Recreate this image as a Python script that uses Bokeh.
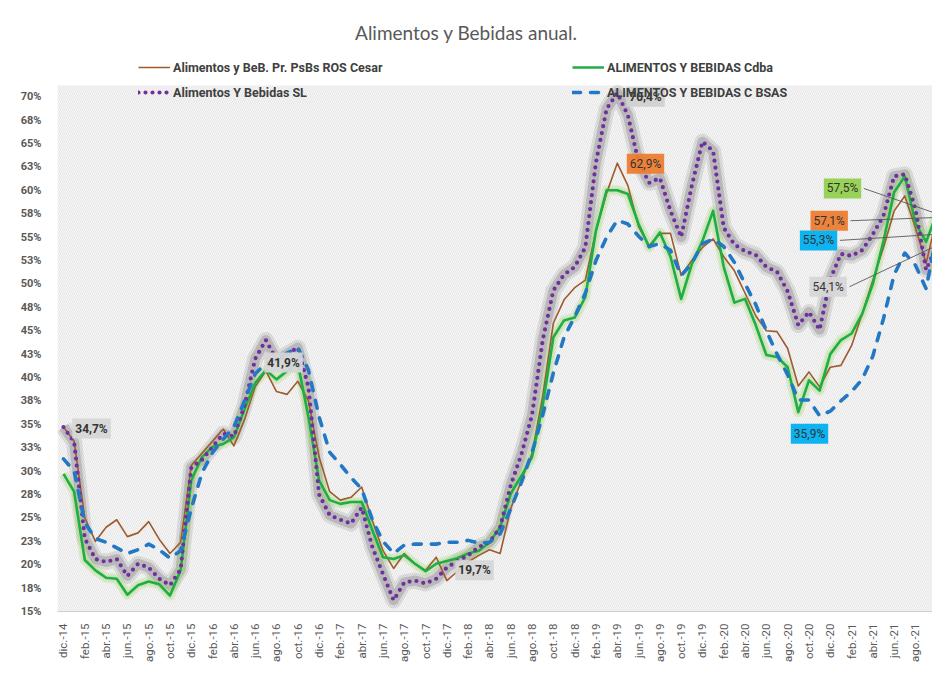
import numpy as np
from bokeh.plotting import figure
from bokeh.models import (Range1d, FixedTicker, Legend, LegendItem, Label,
                          BoxAnnotation, ColumnDataSource)
from bokeh.embed import file_html
from bokeh.resources import INLINE

# ---------------- data ----------------
MONTHS = ["ene.", "feb.", "mar.", "abr.", "may.", "jun.", "jul.", "ago.",
          "sep.", "oct.", "nov.", "dic."]
categories = (["dic.-14"] + [f"{m}-{y}" for y in range(15, 22) for m in MONTHS])[:83]

ros_cesar = [34.7, 33.2, 25.0, 22.5, 24.0, 24.8, 23.0, 23.4, 24.6, 22.7, 21.2, 22.4,
             30.6, 31.9, 33.2, 34.5, 32.7, 35.5, 39.0, 40.7, 38.5, 38.2, 39.6, 37.5,
             31.5, 27.8, 26.9, 27.2, 28.3, 24.7, 21.5, 19.6, 21.2, 20.1, 19.4, 20.8,
             18.3, 19.3, 20.3, 21.0, 21.6, 21.2, 26.0, 29.0, 31.9, 38.0, 45.8, 48.3,
             49.6, 50.4, 55.7, 59.7, 62.9, 60.5, 56.1, 54.1, 55.4, 55.4, 50.9, 52.5,
             53.9, 54.8, 52.9, 51.4, 49.0, 46.6, 45.0, 44.9, 43.1, 39.1, 40.6, 39.0,
             41.1, 41.3, 43.4, 46.8, 50.4, 53.9, 57.8, 59.4, 56.0, 52.2, 57.1]

cdba = [29.7, 27.8, 20.5, 19.4, 18.6, 18.5, 16.8, 17.8, 18.2, 17.9, 16.7, 19.4,
        29.0, 31.5, 32.6, 32.9, 33.6, 36.6, 39.4, 40.8, 39.8, 40.7, 41.5, 35.8,
        29.0, 26.9, 26.5, 26.7, 26.7, 23.7, 20.8, 20.6, 21.0, 20.1, 19.3, 20.1,
        20.4, 20.7, 21.2, 21.5, 22.4, 24.0, 27.6, 29.5, 31.5, 37.0, 44.3, 46.1,
        46.4, 48.6, 55.7, 60.0, 60.0, 59.6, 56.4, 53.9, 55.5, 52.9, 48.4, 52.1,
        54.6, 57.8, 51.8, 48.0, 48.4, 45.6, 42.4, 42.2, 41.1, 36.3, 39.7, 38.6,
        42.5, 44.0, 44.7, 46.8, 50.0, 54.6, 59.8, 61.5, 56.5, 54.5, 57.5]

sl = [34.7, 33.1, 22.8, 20.6, 20.3, 20.6, 18.8, 20.1, 19.7, 18.5, 17.8, 19.5,
      30.4, 31.2, 32.6, 34.0, 33.7, 37.0, 42.0, 44.0, 41.9, 42.5, 43.2, 39.0,
      27.5, 25.3, 24.8, 24.4, 26.1, 21.9, 19.0, 16.2, 18.1, 18.3, 18.0, 18.5,
      19.7, 20.4, 21.0, 21.9, 22.4, 24.0, 28.5, 31.8, 36.0, 44.0, 49.3, 51.0,
      51.8, 53.9, 63.0, 68.7, 70.4, 68.0, 63.0, 60.8, 61.3, 57.8, 55.0, 60.5,
      65.2, 64.2, 56.0, 54.2, 53.5, 53.1, 51.8, 51.3, 49.2, 45.6, 47.0, 45.1,
      50.5, 53.2, 53.0, 53.6, 55.3, 57.3, 61.5, 61.7, 58.0, 51.5, 54.1]

c_bsas = [31.3, 30.0, 24.5, 22.8, 22.4, 21.8, 21.2, 21.6, 22.2, 21.6, 20.7, 21.5,
          26.0, 29.8, 32.0, 33.4, 34.7, 37.5, 40.4, 41.5, 42.0, 42.6, 43.2, 40.8,
          35.8, 32.0, 30.7, 29.3, 28.1, 24.8, 22.5, 21.2, 22.1, 22.2, 22.2, 22.2,
          22.4, 22.4, 22.6, 22.3, 22.4, 23.3, 26.0, 28.8, 32.0, 36.0, 40.5, 44.3,
          46.5, 49.0, 52.5, 55.0, 56.8, 56.4, 55.1, 54.0, 54.3, 53.6, 50.9, 52.2,
          54.3, 54.8, 54.0, 52.3, 50.0, 47.8, 45.0, 42.5, 40.3, 37.6, 37.6, 35.9,
          36.4, 37.5, 38.5, 39.8, 42.3, 46.3, 51.0, 53.3, 52.0, 49.5, 55.3]

y_ticks = [15, 17.5, 20, 22.5, 25, 27.5, 30, 32.5, 35, 37.5, 40, 42.5, 45, 47.5,
           50, 52.5, 55, 57.5, 60, 62.5, 65, 67.5, 70]
y_tick_labels = ["15%", "18%", "20%", "23%", "25%", "28%", "30%", "33%", "35%",
                 "38%", "40%", "43%", "45%", "48%", "50%", "53%", "55%", "58%",
                 "60%", "63%", "65%", "68%", "70%"]

title_text = "Alimentos y Bebidas anual."
names = ["Alimentos y BeB. Pr. PsBs ROS Cesar", "ALIMENTOS Y BEBIDAS Cdba",
         "Alimentos Y Bebidas SL", "ALIMENTOS Y BEBIDAS C BSAS"]

x_idx = list(range(len(categories)))
src = ColumnDataSource(dict(x=x_idx, ros=ros_cesar, cdba=cdba, sl=sl, bsas=c_bsas))

# ---------------- styles ----------------
BROWN = "#a05a2c"
GREEN = "#1fad4a"
PURPLE = "#7030a0"
BLUE = "#2378c6"
TXT = "#595959"
FONT = "Roboto"

p = figure(width=932, height=684, x_range=Range1d(-0.563, 81.6),
           y_range=Range1d(15, 80.28), output_backend="svg",
           toolbar_location=None, title=None,
           min_border_left=57, min_border_right=0, min_border_top=0,
           min_border_bottom=73)
p.outline_line_color = None
p.background_fill_color = "white"
p.border_fill_color = "white"

# hatched plot area
p.add_layout(BoxAnnotation(bottom=15, top=71.2, fill_color="#f7f7f7", fill_alpha=1,
                           line_color=None, hatch_pattern="left_diagonal_line",
                           hatch_color="#e2e2e2", hatch_scale=4, hatch_weight=0.8,
                           level="underlay"))

# axes
p.xaxis.ticker = FixedTicker(ticks=list(range(0, len(categories), 2)))
p.xaxis.major_label_overrides = {i: categories[i] for i in range(0, len(categories), 2)}
p.xaxis.major_label_orientation = np.pi / 2
p.xaxis.axis_line_color = "#d0d0d0"
p.xaxis.major_tick_line_color = None
p.xaxis.minor_tick_line_color = None
p.xaxis.major_label_standoff = 6
p.xaxis.major_label_text_font = FONT
p.xaxis.major_label_text_font_size = "11.5px"
p.xaxis.major_label_text_color = TXT
p.xgrid.visible = False

p.yaxis.ticker = FixedTicker(ticks=y_ticks)
p.yaxis.major_label_overrides = {t: l for t, l in zip(y_ticks, y_tick_labels)}
p.yaxis.axis_line_color = None
p.yaxis.major_tick_line_color = None
p.yaxis.minor_tick_line_color = None
p.yaxis.major_label_standoff = 10
p.yaxis.major_label_text_font = FONT
p.yaxis.major_label_text_font_style = "bold"
p.yaxis.major_label_text_font_size = "11px"
p.yaxis.major_label_text_color = TXT
p.ygrid.grid_line_color = "#dcdcdc"
p.ygrid.grid_line_width = 1

# glows
p.line('x', 'sl', source=src, line_width=16, line_color="#8c8c8c", line_alpha=0.22, line_join="round")
p.line('x', 'sl', source=src, line_width=10, line_color="#7f7f7f", line_alpha=0.35, line_join="round")
p.line('x', 'cdba', source=src, line_width=10, line_color="#92d050", line_alpha=0.22, line_join="round")
p.line('x', 'cdba', source=src, line_width=6, line_color="#b5e08a", line_alpha=0.35, line_join="round")

# series
r_ros = p.line('x', 'ros', source=src, line_width=1.6, line_color=BROWN, line_join="round")
r_cdba = p.line('x', 'cdba', source=src, line_width=2.6, line_color=GREEN, line_join="round")
r_sl = p.line('x', 'sl', source=src, line_width=4.2, line_color=PURPLE, line_dash="0 7",
              line_cap="round", line_join="round")
r_bsas = p.line('x', 'bsas', source=src, line_width=3.6, line_color=BLUE, line_dash="8 10",
                line_cap="round", line_join="round")


def make_legend(items, loc, gw=32, gh=20):
    lg = Legend(items=items, location=loc, orientation="vertical",
                background_fill_alpha=0, border_line_color=None, padding=0,
                margin=0, spacing=5, glyph_width=gw, glyph_height=gh,
                label_height=gh, label_standoff=3, label_text_font=FONT,
                label_text_font_style="bold", label_text_font_size="12.5px",
                label_text_color="#404040")
    p.add_layout(lg)
    return lg


make_legend([LegendItem(label=names[0], renderers=[r_ros]),
             LegendItem(label=names[2], renderers=[r_sl])], (81, 509))
make_legend([LegendItem(label=names[1], renderers=[r_cdba]),
             LegendItem(label=names[3], renderers=[r_bsas])], (515, 509))

# unlabeled green legend swatch at the lower left (outside the plot frame)
p.add_layout(Label(x=-16.5, y=-20, x_units="screen", y_units="screen", text=" ",
                   text_align="center", text_baseline="middle", text_font=FONT,
                   text_font_size="3px", background_fill_color="#92d050",
                   background_fill_alpha=1, padding=3, level="overlay"))

# title
p.add_layout(Label(x=409, y=579, x_units="screen", y_units="screen", text=title_text,
                   text_align="center", text_baseline="middle",
                   text_font="Lato", text_font_size="19px", text_color=TXT))

# data labels: (series, index, dx months, dy points, background, bold)
series = {"ros": ros_cesar, "cdba": cdba, "sl": sl, "bsas": c_bsas}
label_specs = [
    ("sl", 0, 2.63, -0.15, "#d6d6d6", True),
    ("sl", 20, 0.66, -0.3, "#d6d6d6", True),
    ("sl", 36, 2.6, -0.3, "#d6d6d6", True),
    ("sl", 52, 2.65, -0.4, "#d0d0d0", True),
    ("ros", 52, 2.65, -0.05, "#ed7d31", False),
    ("bsas", 71, -0.95, -1.9, "#00b0f0", False),
    ("cdba", 82, -8.85, 2.7, "#92d050", False),
    ("ros", 82, -10.1, -0.35, "#ed7d31", False),
    ("bsas", 82, -11.1, -0.65, "#00b0f0", False),
    ("sl", 82, -10.2, -4.4, "#d6d6d6", False),
]
leader_x0, leader_y0, leader_x1, leader_y1 = [], [], [], []
for key, i, dx, dy, bg, bold in label_specs:
    v = series[key][i]
    txt = f"{v:.1f}".replace(".", ",") + "%"
    p.add_layout(Label(x=i + dx, y=v + dy, text=txt, text_align="center",
                       text_baseline="middle", text_font=FONT,
                       text_font_size="12px",
                       text_font_style="bold" if bold else "normal",
                       text_color="#333333", background_fill_color=bg,
                       background_fill_alpha=0.95, padding=3, level="overlay"))
    if i == 82:
        leader_x0.append(i + dx + 2.0)
        leader_y0.append(v + dy)
        leader_x1.append(i)
        leader_y1.append(v)

p.segment(x0=leader_x0, y0=leader_y0, x1=leader_x1, y1=leader_y1,
          line_color="#595959", line_width=0.9)

open("out.html", "w").write(file_html(p, INLINE))
